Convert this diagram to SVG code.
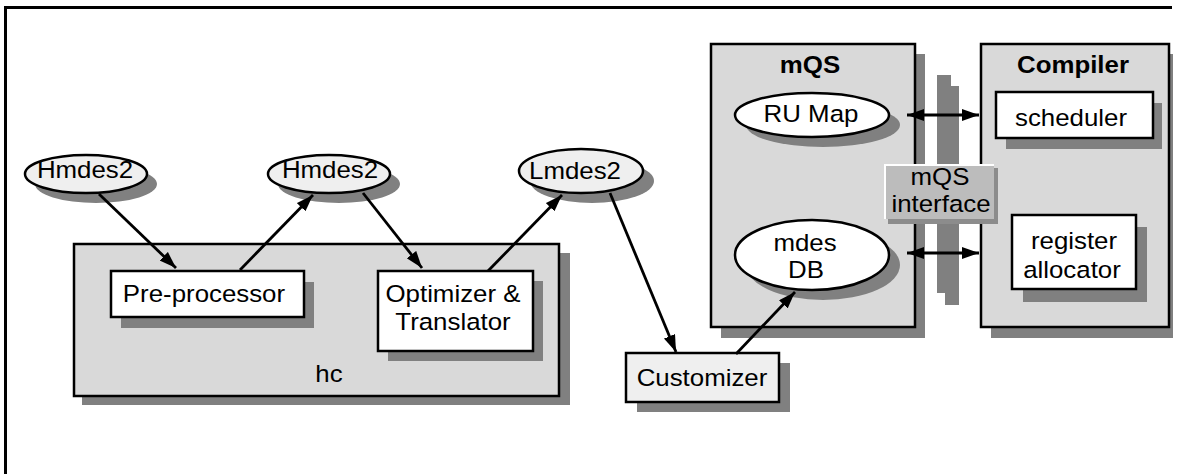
<svg xmlns="http://www.w3.org/2000/svg" width="1177" height="474" viewBox="0 0 1177 474">
<style>
text { font-family: "Liberation Sans", Arial, sans-serif; font-size: 23.5px; fill: #000; text-anchor: middle; transform-box: fill-box; transform-origin: center; transform: scaleX(1.1); }
.b { font-weight: bold; }
.sh { fill: #808080; stroke: none; }
.box { stroke: #000; stroke-width: 2.5; }
.gray { fill: #d9d9d9; }
.white { fill: #ffffff; }
.light { fill: #efefef; }
.conn { stroke: #000; stroke-width: 2.8; fill: none; }
</style>
<defs>
<marker id="ah" markerUnits="userSpaceOnUse" markerWidth="20" markerHeight="14" refX="17" refY="6" orient="auto-start-reverse">
<path d="M0,0 L17,6 L0,12 Z" fill="#000"/>
</marker>
</defs>
<rect width="1177" height="474" fill="#fff"/>
<path d="M5.5,474 V7.5 H1172" fill="none" stroke="#000" stroke-width="3"/>

<g id="hc">
<rect class="sh" x="82" y="253" width="488" height="152"/>
<rect class="box gray" x="74" y="244" width="485" height="152"/>
<text x="329" y="382">hc</text>
</g>

<g id="preprocessor">
<rect class="sh" x="121" y="282" width="193" height="46"/>
<rect class="box white" x="111" y="271" width="193" height="46"/>
<text x="204" y="302">Pre-processor</text>
</g>

<g id="optimizer">
<rect class="sh" x="388" y="281" width="155" height="80"/>
<rect class="box white" x="378" y="271" width="155" height="80"/>
<text x="453" y="302">Optimizer &amp;</text>
<text x="453" y="330">Translator</text>
</g>

<g id="hmdes2a">
<ellipse class="sh" cx="96" cy="184" rx="61" ry="19"/>
<ellipse class="box light" cx="86" cy="174" rx="61" ry="19"/>
<text x="85" y="178">Hmdes2</text>
</g>

<g id="hmdes2b">
<ellipse class="sh" cx="339" cy="184" rx="61" ry="19"/>
<ellipse class="box light" cx="329" cy="174" rx="61" ry="19"/>
<text x="330" y="178">Hmdes2</text>
</g>

<g id="lmdes2">
<ellipse class="sh" cx="592" cy="181" rx="62" ry="22"/>
<ellipse class="box light" cx="581" cy="171" rx="62" ry="22"/>
<text x="575" y="179">Lmdes2</text>
</g>

<g id="customizer">
<rect class="sh" x="637" y="363" width="153" height="49"/>
<rect class="box light" x="626" y="353" width="153" height="49"/>
<text x="702" y="386">Customizer</text>
</g>

<g id="mqs">
<rect class="sh" x="721" y="54" width="204" height="284"/>
<rect class="box gray" x="711" y="44" width="204" height="283"/>
<text class="b" x="810" y="73">mQS</text>
</g>

<g id="rumap">
<ellipse class="sh" cx="823" cy="125" rx="77" ry="22"/>
<ellipse class="box white" cx="812" cy="115" rx="77" ry="22"/>
<text x="811" y="122">RU Map</text>
</g>

<g id="mdesdb">
<ellipse class="sh" cx="823" cy="265" rx="77" ry="35"/>
<ellipse class="box white" cx="812" cy="255" rx="77" ry="35"/>
<text x="805" y="251">mdes</text>
<text x="806" y="278">DB</text>
</g>

<g id="compiler">
<rect class="sh" x="991" y="54" width="182" height="284"/>
<rect class="box gray" x="981" y="44" width="188" height="283"/>
<text class="b" x="1073" y="73">Compiler</text>
</g>

<g id="scheduler">
<rect class="sh" x="1006" y="103" width="156" height="46"/>
<rect class="box white" x="996" y="92" width="157" height="46"/>
<text x="1071" y="126">scheduler</text>
</g>

<g id="regalloc">
<rect class="sh" x="1023" y="227" width="124" height="75"/>
<rect class="box white" x="1012" y="215" width="124" height="74"/>
<text x="1074" y="249">register</text>
<text x="1072" y="278">allocator</text>
</g>

<g id="interface-bar">
<rect class="sh" x="937" y="75" width="14" height="218"/>
<rect class="sh" x="945" y="86" width="14" height="219"/>
</g>

<g id="connectors">
<line class="conn" x1="99" y1="194" x2="176" y2="268" marker-end="url(#ah)"/>
<line class="conn" x1="240" y1="270" x2="313" y2="195" marker-end="url(#ah)"/>
<line class="conn" x1="363" y1="193" x2="422" y2="268" marker-end="url(#ah)"/>
<line class="conn" x1="488" y1="271" x2="562" y2="195" marker-end="url(#ah)"/>
<line class="conn" x1="610" y1="193" x2="676" y2="352" marker-end="url(#ah)"/>
<line class="conn" x1="736" y1="354" x2="795" y2="292" marker-end="url(#ah)"/>
<line class="conn" x1="907" y1="115" x2="979" y2="115" marker-start="url(#ah)" marker-end="url(#ah)"/>
<line class="conn" x1="907" y1="253" x2="979" y2="253" marker-start="url(#ah)" marker-end="url(#ah)"/>
</g>

<g id="mqs-interface">
<rect x="888" y="168" width="110" height="56" fill="#8c8c8c"/>
<rect x="884" y="164" width="110" height="55" fill="#ffffff"/>
<rect x="886" y="166" width="108" height="53" fill="#bcbcbc"/>
<text x="940" y="185">mQS</text>
<text x="941" y="212">interface</text>
</g>
</svg>
